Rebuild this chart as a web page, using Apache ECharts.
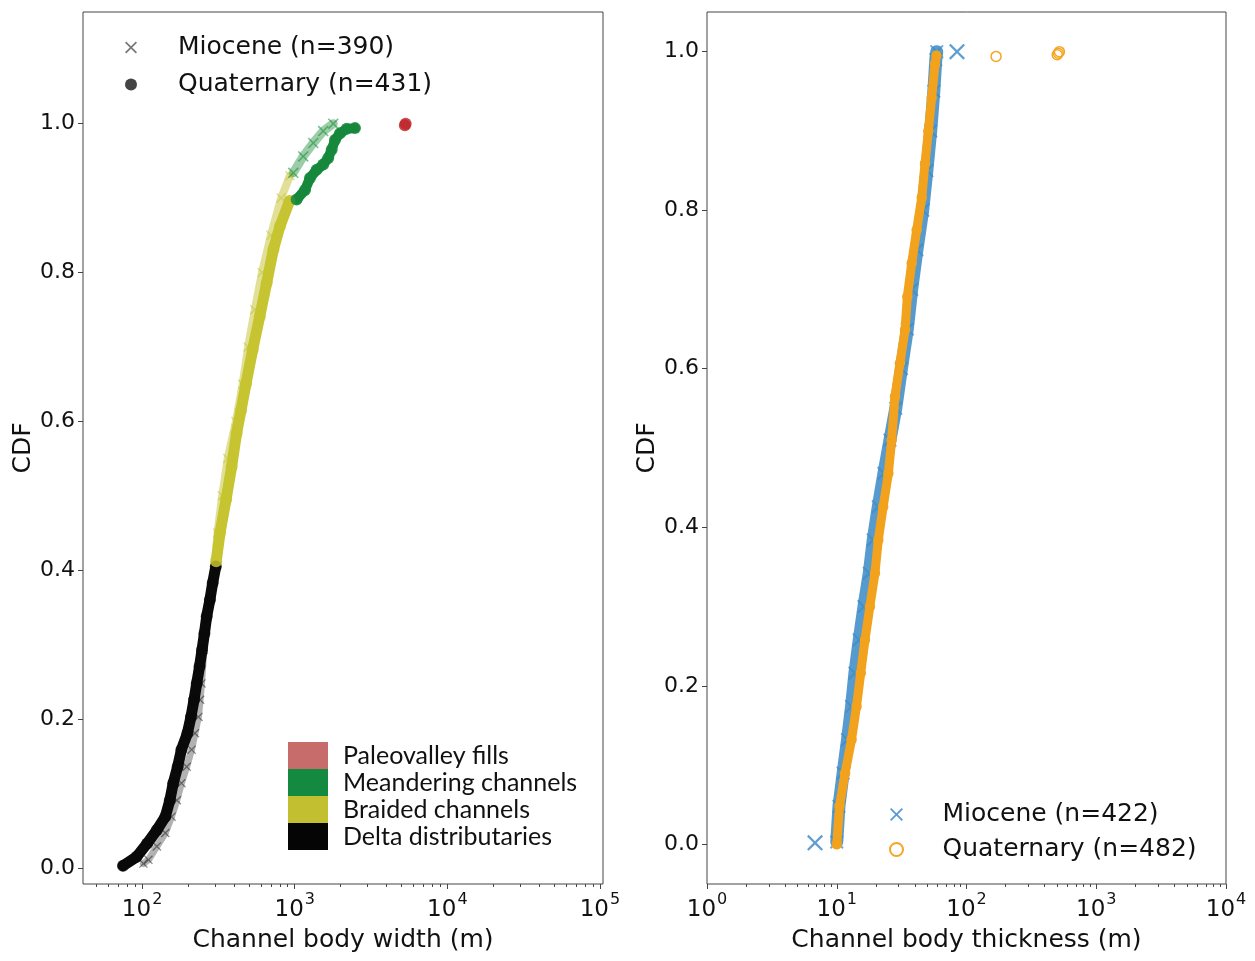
<!DOCTYPE html>
<html><head><meta charset="utf-8">
<script src="https://cdn.jsdelivr.net/npm/echarts@6/dist/echarts.min.js"></script>
<style>html,body{margin:0;padding:0;background:#fff}#c{width:1255px;height:961px}</style>
</head><body><div id="c"></div>
<script>
// ---------- tick labels ----------
const cdfTicks = [0, 0.2, 0.4, 0.6, 0.8, 1.0];
const widthMajorTicks = [100, 1000, 10000, 100000];
const thickMajorTicks = [1, 10, 100, 1000, 10000];

// ---------- left panel: channel body width (m) vs CDF ----------
const mioWidthDelta = [[102,0.006],[110,0.011],[125,0.029],[142,0.047],[156,0.069],[169,0.091],[181,0.114],[196,0.136],[211,0.159],[222,0.181],[234,0.203],[240,0.226],[245,0.248],[254,0.293],[268,0.338],[293,0.383],[300,0.400]];
const mioWidthBraided = [[300,0.410],[312,0.450],[335,0.500],[364,0.550],[412,0.600],[456,0.650],[495,0.700],[548,0.750],[611,0.800],[698,0.850],[815,0.900],[930,0.930]];
const mioWidthMeander = [[979,0.934],[1137,0.956],[1323,0.974],[1537,0.990],[1790,1.000]];

const quaWidthDelta = [[75,0.003],[92,0.015],[108,0.033],[125,0.051],[142,0.069],[152,0.091],[160,0.114],[171,0.136],[181,0.159],[198,0.181],[209,0.203],[219,0.226],[228,0.248],[238,0.271],[247,0.293],[256,0.315],[265,0.338],[278,0.360],[290,0.383],[304,0.405]];
const quaWidthBraided = [[306,0.412],[324,0.450],[355,0.495],[386,0.539],[416,0.584],[445,0.615],[480,0.651],[530,0.696],[590,0.741],[655,0.786],[725,0.831],[800,0.862],[925,0.896]];
const quaWidthMeander = [[1030,0.898],[1169,0.911],[1259,0.927],[1392,0.938],[1537,0.945],[1659,0.954],[1746,0.965],[1836,0.978],[1981,0.987],[2190,0.993],[2483,0.994]];
const quaWidthPaleo = [[5270,0.998],[5330,1.000]];

// ---------- right panel: channel body thickness (m) vs CDF ----------
const mioThick = [[10.0,0.003],[10.4,0.048],[11.2,0.090],[12.1,0.132],[13.0,0.174],[13.8,0.216],[14.9,0.258],[16.2,0.300],[17.8,0.342],[19.1,0.384],[20.9,0.426],[23.1,0.468],[25.7,0.510],[28.5,0.550],[31.5,0.600],[35.0,0.650],[37.8,0.700],[41.5,0.750],[46.0,0.800],[49.5,0.850],[53.0,0.900],[56.0,0.950],[58.0,0.990],[59.0,1.000]];
const mioThickOutliers = [[6.8,0.002],[84.5,1.000]];
const quaThick = [[10.0,0.000],[10.5,0.048],[11.6,0.090],[13.0,0.132],[14.2,0.174],[15.3,0.216],[16.5,0.258],[18.0,0.300],[19.7,0.342],[20.9,0.384],[22.8,0.426],[25.0,0.468],[26.5,0.510],[28.1,0.565],[30.7,0.607],[33.6,0.649],[35.0,0.691],[37.8,0.733],[41.3,0.775],[45.2,0.816],[47.9,0.859],[50.8,0.900],[53.9,0.942],[57.2,0.984],[58.6,0.995]];
const quaThickOutliers = [[169,0.994],[500,0.996],[510,0.998],[520,1.000]];

// ---------- labels ----------
const widthLegend = ['Miocene (n=390)', 'Quaternary (n=431)'];
const thickLegend = ['Miocene (n=422)', 'Quaternary (n=482)'];
const categoryNames = ['Paleovalley fills', 'Meandering channels', 'Braided channels', 'Delta distributaries'];
const categoryColors = ['#c76b6b', '#138a40', '#c2c030', '#050505'];

const X_PATH = 'path://M0,1L1,0L5,4L9,0L10,1L6,5L10,9L9,10L5,6L1,10L0,9L4,5Z';
const FONT = 'DejaVu Sans';
const AX = '#444';

function minorTicks(lo, hi) {
  const out = [];
  for (let k = lo; k < hi; k++) for (let m = 2; m <= 9; m++) out.push(m * Math.pow(10, k));
  return out;
}
const supLabel = {
  formatter: v => '{b|10}{s|' + Math.round(Math.log10(v)) + '}',
  rich: {
    b: { fontSize: 23, fontFamily: FONT, color: '#111', verticalAlign: 'bottom' },
    s: { fontSize: 16, fontFamily: FONT, color: '#111', verticalAlign: 'top', padding: [0, 0, 14, 1] }
  }
};

function xAxes(grid, min, max, ticks, name, minorLo, minorHi) {
  return [{
    type: 'log', gridIndex: grid, position: 'bottom', min: min, max: max, logBase: 10,
    name: name, nameLocation: 'middle', nameGap: 44,
    nameTextStyle: { fontSize: 25, fontFamily: FONT, color: '#111' },
    axisLine: { show: false, onZero: false },
    axisTick: { show: true, inside: false, length: 5, lineStyle: { color: AX, width: 1 }, customValues: ticks },
    axisLabel: Object.assign({ show: true, margin: 8, customValues: ticks }, supLabel),
    splitLine: { show: false }, minorTick: { show: false }
  }, {
    type: 'log', gridIndex: grid, position: 'bottom', offset: 0, min: min, max: max, logBase: 10,
    axisLine: { show: false, onZero: false },
    axisTick: { show: true, inside: false, length: 3, lineStyle: { color: AX, width: 1 }, customValues: minorTicks(minorLo, minorHi).filter(v => v >= min && v <= max) },
    axisLabel: { show: false }, splitLine: { show: false }
  }];
}
function yAxis(grid, min, max) {
  return {
    type: 'value', gridIndex: grid, position: 'left', min: min, max: max,
    name: 'CDF', nameLocation: 'middle', nameGap: 46, nameRotate: 90,
    nameTextStyle: { fontSize: 25, fontFamily: FONT, color: '#111' },
    axisLine: { show: false, onZero: false },
    axisTick: { show: true, inside: false, length: 5, lineStyle: { color: AX }, customValues: cdfTicks },
    axisLabel: { show: true, margin: 8, customValues: cdfTicks, formatter: v => v.toFixed(1), fontSize: 22, fontFamily: FONT, color: '#111' },
    splitLine: { show: false }
  };
}

function band(name, data, xi, yi, color, opts) {
  return {
    type: 'line', name: name, data: data, xAxisIndex: xi, yAxisIndex: yi,
    symbol: opts.symbol, symbolSize: opts.size, showSymbol: true, showAllSymbol: true,
    itemStyle: Object.assign({ color: color, opacity: opts.symOpacity }, opts.item || {}),
    lineStyle: { color: color, width: opts.width, opacity: opts.lineOpacity, cap: 'round', join: 'round' },
    z: opts.z, silent: true, animation: false
  };
}
function dummy(name, color, symbol, extra) {
  return Object.assign({ type: 'scatter', name: name, data: [], xAxisIndex: 0, yAxisIndex: 0, symbol: symbol, itemStyle: { color: color, opacity: 1 } }, extra || {});
}

const chart = echarts.init(document.getElementById('c'), null, { renderer: 'canvas' });
const option = {
  animation: false,
  backgroundColor: '#fff',
  grid: [
    { left: 83, top: 12, width: 520, height: 872, show: true, borderColor: AX, borderWidth: 1, backgroundColor: 'transparent' },
    { left: 707, top: 12, width: 519, height: 872, show: true, borderColor: AX, borderWidth: 1, backgroundColor: 'transparent' }
  ],
  xAxis: [].concat(
    xAxes(0, 41, 104700, widthMajorTicks, 'Channel body width (m)', 1, 5),
    xAxes(1, 1, 10000, thickMajorTicks, 'Channel body thickness (m)', 0, 4)
  ),
  yAxis: [yAxis(0, -0.0215, 1.15), yAxis(1, -0.05, 1.05)],
  legend: [
    { data: [{ name: widthLegend[0], icon: X_PATH }, { name: widthLegend[1], icon: 'circle' }],
      orient: 'vertical', left: 120, top: 30, itemWidth: 84, itemHeight: 12, itemGap: 12, selectedMode: false,
      textStyle: { fontSize: 25, fontFamily: FONT, color: '#111' } },
    { data: categoryNames.map(n => ({ name: n, icon: 'rect' })),
      orient: 'vertical', left: 283, top: 737, itemWidth: 40, itemHeight: 27, itemGap: 0, selectedMode: false,
      textStyle: { fontSize: 25, fontFamily: 'Lato', color: '#111', lineHeight: 27, padding: [0, 0, 0, 10] } },
    { data: [{ name: thickLegend[0], icon: X_PATH }, { name: thickLegend[1], icon: 'emptyCircle' }],
      orient: 'vertical', left: 884, top: 797, itemWidth: 82, itemHeight: 13, itemGap: 10, selectedMode: false,
      textStyle: { fontSize: 25, fontFamily: FONT, color: '#111' } }
  ],
  series: [
    // left: Miocene (crosses)
    band('mioWDelta', mioWidthDelta, 0, 0, '#000', { symbol: X_PATH, size: 9, symOpacity: 0.45, width: 7, lineOpacity: 0.3, z: 2 }),
    band('mioWBraided', mioWidthBraided, 0, 0, '#c4c22e', { symbol: X_PATH, size: 10, symOpacity: 0.5, width: 8, lineOpacity: 0.5, z: 2 }),
    band('mioWMeander', mioWidthMeander, 0, 0, '#22913f', { symbol: X_PATH, size: 11, symOpacity: 0.6, width: 9, lineOpacity: 0.45, z: 2 }),
    // left: Quaternary (dots)
    band('quaWDelta', quaWidthDelta, 0, 0, '#0a0a0a', { symbol: 'circle', size: 12, symOpacity: 0.75, width: 11, lineOpacity: 1, z: 3 }),
    band('quaWBraided', quaWidthBraided, 0, 0, '#c6c430', { symbol: 'circle', size: 12, symOpacity: 0.8, width: 11, lineOpacity: 1, z: 3 }),
    band('quaWMeander', quaWidthMeander, 0, 0, '#16883c', { symbol: 'circle', size: 12, symOpacity: 0.85, width: 10, lineOpacity: 1, z: 3 }),
    { type: 'scatter', name: 'quaWPaleo', data: quaWidthPaleo, xAxisIndex: 0, yAxisIndex: 0, symbol: 'circle', symbolSize: 12, itemStyle: { color: '#c0282d', opacity: 0.85 }, z: 3, silent: true },
    // right: Miocene (crosses)
    band('mioT', mioThick, 2, 1, '#3a8ac6', { symbol: X_PATH, size: 14, symOpacity: 0.7, width: 13, lineOpacity: 0.85, z: 2 }),
    { type: 'scatter', name: 'mioTOut', data: mioThickOutliers, xAxisIndex: 2, yAxisIndex: 1, symbol: X_PATH, symbolSize: 16, itemStyle: { color: '#4f94cc', opacity: 0.9 }, z: 2, silent: true },
    // right: Quaternary (open circles)
    band('quaT', quaThick, 2, 1, '#f2a21c', { symbol: 'circle', size: 9, symOpacity: 1, width: 9, lineOpacity: 1, z: 3, item: { color: 'rgba(0,0,0,0)', borderColor: '#f2a21c', borderWidth: 1.5 } }),
    { type: 'scatter', name: 'quaTOut', data: quaThickOutliers, xAxisIndex: 2, yAxisIndex: 1, symbol: 'circle', symbolSize: 10, itemStyle: { color: 'rgba(0,0,0,0)', borderColor: '#f5a623', borderWidth: 1.5, opacity: 1 }, z: 3, silent: true },
    // legend entries
    dummy(widthLegend[0], '#777', X_PATH),
    dummy(widthLegend[1], '#444', 'circle'),
    dummy(categoryNames[0], categoryColors[0], 'rect'),
    dummy(categoryNames[1], categoryColors[1], 'rect'),
    dummy(categoryNames[2], categoryColors[2], 'rect'),
    dummy(categoryNames[3], categoryColors[3], 'rect'),
    dummy(thickLegend[0], '#5b9bd5', X_PATH),
    dummy(thickLegend[1], '#f5a623', 'emptyCircle')
  ]
};
chart.setOption(option);
</script></body></html>
